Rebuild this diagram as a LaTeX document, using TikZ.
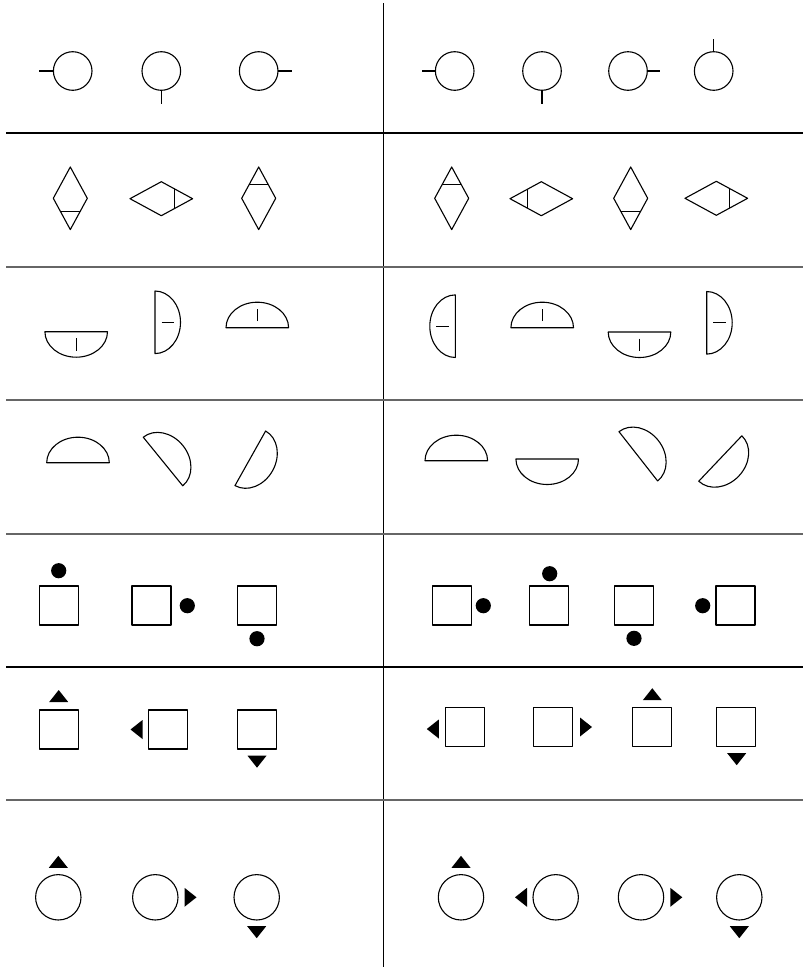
\documentclass[tikz,border=0pt]{standalone}
\begin{document}
\begin{tikzpicture}[x=1pt,y=-1pt,line join=round,
  shapeline/.style={draw=black,line width=1.1pt},
  ruleblack/.style={draw=black,line width=1.5pt},
  rulegray/.style={draw=black!60,line width=1.5pt},
  dotmark/.style={fill=black},
  semi/.pic={\draw[shapeline] (-31.3,0) -- (31.3,0) arc[start angle=0,end angle=180,x radius=31.3,y radius=25.5] -- cycle;},
  semitick/.pic={\draw[shapeline] (-31.3,0) -- (31.3,0) arc[start angle=0,end angle=180,x radius=31.3,y radius=25.5] -- cycle;
                 \draw[shapeline] (0,6.5) -- (0,19);},
  diam/.pic={\draw[shapeline] (0,-31.3) -- (17,0) -- (0,31.3) -- (-17,0) -- cycle;
             \draw[shapeline] (-9.4,13.4) -- (9.4,13.4);},
  tri/.pic={\fill (0,-6) -- (9.5,6) -- (-9.5,6) -- cycle;},
  sq/.style={shapeline,minimum size=39pt,inner sep=0pt,draw},
]
\useasboundingbox (0,0) rectangle (806,967);

% grid
\draw[ruleblack] (383.3,3) -- (383.3,967);
\draw[ruleblack] (6,133) -- (803,133);
\draw[rulegray]  (6,267) -- (803,267);
\draw[rulegray]  (6,400) -- (803,400);
\draw[rulegray]  (6,534) -- (803,534);
\draw[ruleblack] (6,667) -- (803,667);
\draw[rulegray]  (6,800) -- (803,800);

% row 1: circles with ticks
\foreach \cx in {72.7,161.3,258.7,454.7,542,628,713.7}{
  \draw[shapeline] (\cx,71) circle[radius=19.3];
}
\draw[shapeline] (39.3,71) -- (53.4,71);
\draw[shapeline] (161.3,90.3) -- (161.3,103.5);
\draw[shapeline] (278,71) -- (292,71);
\draw[shapeline] (422.3,71) -- (435.4,71);
\draw[shapeline] (542,90.3) -- (542,103.7);
\draw[shapeline] (647.3,71) -- (660,71);
\draw[shapeline] (713.7,39.3) -- (713.7,51.7);

% row 2: diamonds
\pic at (70.3,198.3) {diam};
\pic[rotate=90] at (161.3,198.7) {diam};
\pic[rotate=180] at (258.7,198.3) {diam};
\pic[rotate=180] at (451.7,198.3) {diam};
\pic[rotate=-90] at (541.3,198.7) {diam};
\pic at (630.7,198.3) {diam};
\pic[rotate=90] at (716.3,198.3) {diam};

% row 3: half ellipses with ticks
\pic at (76.2,331.7) {semitick};
\pic[rotate=90] at (155,322.3) {semitick};
\pic[rotate=180] at (257.3,327.7) {semitick};
\pic[rotate=-90] at (455.3,326.2) {semitick};
\pic[rotate=180] at (542.2,327.7) {semitick};
\pic at (639.5,332) {semitick};
\pic[rotate=90] at (706.7,322.8) {semitick};

% row 4: half ellipses
\pic[rotate=180] at (78,462.7) {semi};
\pic[rotate=-230.9] at (163,461.5) {semi};
\pic[rotate=60.7] at (250.3,458.3) {semi};
\pic[rotate=180] at (456.3,460.7) {semi};
\pic at (547.2,459) {semi};
\pic[rotate=-231.9] at (638.3,456.3) {semi};
\pic[rotate=46.5] at (720.3,458.5) {semi};

% row 5: squares with dots
\node[sq] (s51) at (58.8,605.5) {};
\node[sq] (s52) at (151.5,605.5) {};
\node[sq] (s53) at (257,605.5) {};
\node[sq] (s54) at (452,605.5) {};
\node[sq] (s55) at (549.2,605.5) {};
\node[sq] (s56) at (633.8,605.5) {};
\node[sq] (s57) at (735.5,605.5) {};
\fill[dotmark] (58.7,570.7) circle[radius=7.6];
\fill[dotmark] (187.3,605.7) circle[radius=7.6];
\fill[dotmark] (257,638.7) circle[radius=7.6];
\fill[dotmark] (483.3,605.7) circle[radius=7.6];
\fill[dotmark] (549.7,573.7) circle[radius=7.6];
\fill[dotmark] (634,638.3) circle[radius=7.6];
\fill[dotmark] (702.7,605.7) circle[radius=7.6];

% row 6: squares with triangles
\node[sq] (s61) at (58.8,729.5) {};
\node[sq] (s62) at (168.3,729.5) {};
\node[sq] (s63) at (257,729.5) {};
\node[sq] (s64) at (465.3,727) {};
\node[sq] (s65) at (553,727) {};
\node[sq] (s66) at (652,727) {};
\node[sq] (s67) at (736.3,727) {};
\pic at (58.7,696) {tri};
\pic[rotate=90] at (136.5,729.5) {tri};
\pic[rotate=180] at (257,761.7) {tri};
\pic[rotate=90] at (432.8,729) {tri};
\pic[rotate=-90] at (586,727) {tri};
\pic at (652.3,694.2) {tri};
\pic[rotate=180] at (736.7,759.2) {tri};

% row 7: circles with triangles
\foreach \cx in {58.3,155.3,256.7,461,555.7,641,739.3}{
  \draw[shapeline] (\cx,897.3) circle[radius=22.7];
}
\pic at (58.3,861.8) {tri};
\pic[rotate=-90] at (190.5,897.3) {tri};
\pic[rotate=180] at (256.7,932.2) {tri};
\pic at (461,861.8) {tri};
\pic[rotate=90] at (521,897.3) {tri};
\pic[rotate=-90] at (676.3,897.3) {tri};
\pic[rotate=180] at (739.3,932.2) {tri};
\end{tikzpicture}
\end{document}
